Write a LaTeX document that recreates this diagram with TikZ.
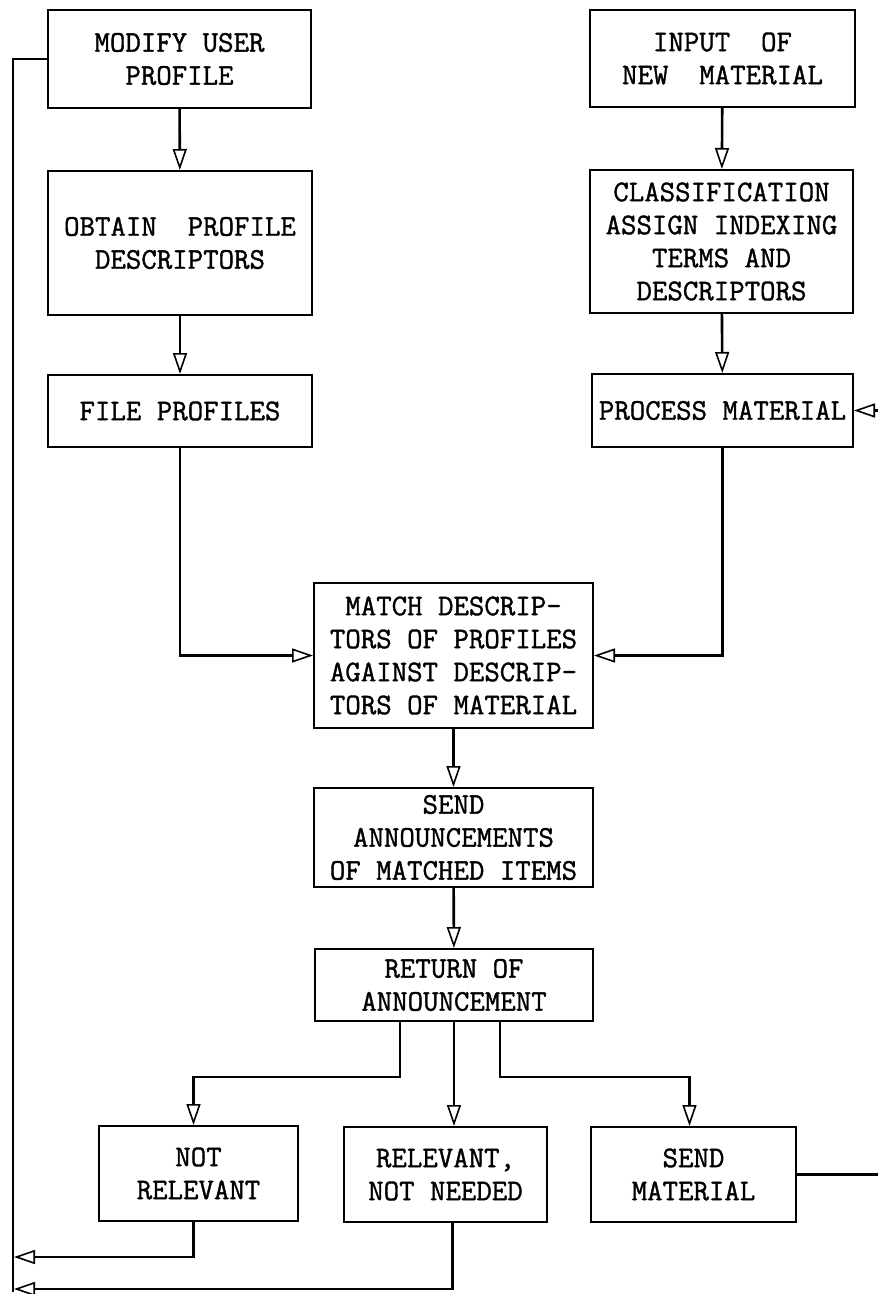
\documentclass[tikz,border=0pt]{standalone}
\usepackage{fontspec}
\usetikzlibrary{arrows.meta,calc}
\newfontfamily\twfont{Latin Modern Mono}[FakeBold=1.2]
\newcommand\boxfont{\fontsize{30}{33}\selectfont\twfont}
\begin{document}
\begin{tikzpicture}[x=1pt,y=-1pt,
  box/.style={draw, line width=2pt, inner sep=0pt, align=center, font=\boxfont},
  wire/.style={line width=2.6pt},
  arr/.style={wire, -{Triangle[open, length=21pt, width=14pt, line width=1.6pt]}}]
\useasboundingbox (0,0) rectangle (878,1294);
\clip (0,0) rectangle (878,1294);

% left column: user profiles
\node[box, minimum width=263pt, minimum height=98pt]  (mod) at (179.5,59)   {MODIFY USER\\PROFILE};
\node[box, minimum width=264pt, minimum height=144pt] (obt) at (180,243)    {OBTAIN~~PROFILE\\DESCRIPTORS};
\node[box, minimum width=264pt, minimum height=72pt]  (fil) at (180,411)    {FILE PROFILES};

% right column: incoming material
\node[box, minimum width=265pt, minimum height=97pt]  (inp) at (722.5,58.5) {INPUT~~OF\\NEW~~MATERIAL};
\node[box, minimum width=263pt, minimum height=143pt] (cls) at (721.5,241.5){CLASSIFICATION\\ASSIGN INDEXING\\TERMS AND\\DESCRIPTORS};
\node[box, minimum width=261pt, minimum height=73pt]  (prc) at (722.5,410.5){PROCESS MATERIAL};

% middle column
\node[box, minimum width=279pt, minimum height=145pt] (mat) at (453.5,655.5){MATCH DESCRIP-\\TORS OF PROFILES\\AGAINST DESCRIP-\\TORS OF MATERIAL};
\node[box, minimum width=279pt, minimum height=99pt]  (snd) at (453.5,837.5){SEND\\ANNOUNCEMENTS\\OF MATCHED ITEMS};
\node[box, minimum width=278pt, minimum height=72pt]  (ret) at (454,985)    {RETURN OF\\ANNOUNCEMENT};

% outcomes
\node[box, minimum width=199pt, minimum height=95pt]  (nrl) at (198.5,1173.5){NOT\\RELEVANT};
\node[box, minimum width=203pt, minimum height=95pt]  (rel) at (445.5,1174.5){RELEVANT,\\NOT NEEDED};
\node[box, minimum width=205pt, minimum height=95pt]  (sm)  at (693.5,1174.5){SEND\\MATERIAL};

% feedback rail on the left
\coordinate (fbtop) at (13,59);
\coordinate (fbbot) at (13,1292);
\coordinate (fbA)   at (14,1257);
\coordinate (fbB)   at (14,1289);

% main flow
\draw[arr] (mod) -- (obt);
\draw[arr] (obt) -- (fil);
\draw[arr] (inp) -- (cls);
\draw[arr] (cls) -- (prc);
\draw[arr] (fil.south) |- (mat.west);
\draw[arr] (prc.south) |- (mat.east);
\draw[arr] (mat) -- (snd);
\draw[arr] (snd) -- (ret);

% three-way split after the return
\draw[arr] ([xshift=-54pt]ret.south) -- ++(0,55) -| ([xshift=-5pt]nrl.north);
\draw[arr] (ret.south) -- (ret.south |- rel.north);
\draw[arr] ([xshift=46pt]ret.south) -- ++(0,55) -| ([xshift=-4pt]sm.north);

% loops back
\draw[arr] ([xshift=-5pt]nrl.south) |- (fbA);
\draw[arr] ([xshift=7pt]rel.south) |- (fbB);
\draw[wire] (fbbot) -- (fbtop) -- (mod.west);
\draw[arr] (sm.east) -- ++(110,0) |- (prc.east);
\end{tikzpicture}
\end{document}
